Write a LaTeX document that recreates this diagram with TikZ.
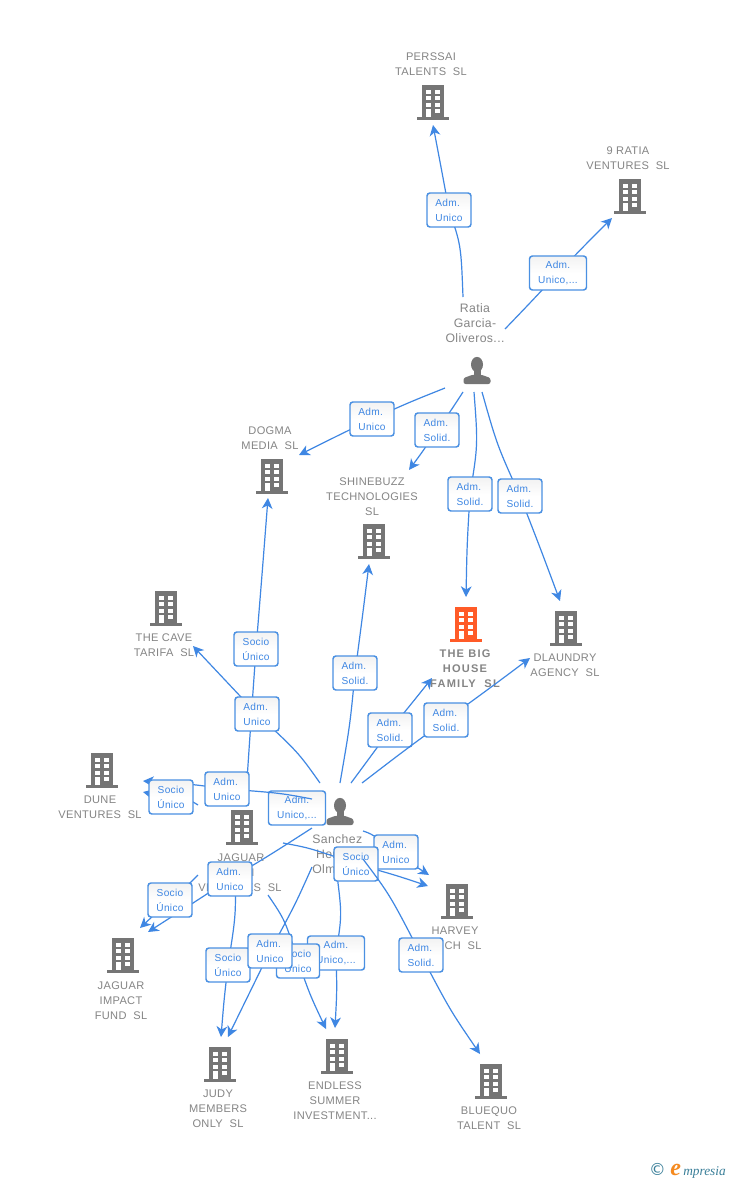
\documentclass[tikz,border=0pt]{standalone}
\usepackage{fontspec}
\usetikzlibrary{arrows.meta}
\setmainfont{Liberation Sans}
\newfontfamily\spaced[LetterSpace=3]{Liberation Sans}
\newfontfamily\spacedB[LetterSpace=11]{Liberation Sans}
\newfontfamily\serifit{Liberation Serif}
\newfontfamily\symb{DejaVu Sans}
\definecolor{lnk}{HTML}{3F87E3}
\definecolor{bdr}{HTML}{4A90E2}
\definecolor{lab}{HTML}{858585}
\definecolor{ico}{HTML}{757575}
\definecolor{hot}{HTML}{FF5B28}
\definecolor{teal}{HTML}{3A7F99}
\definecolor{orng}{HTML}{F58A1F}
\tikzset{
 edge/.style={draw=lnk,line width=0.9pt,-{Stealth[length=8pt,width=8pt,inset=2.4pt]}},
 roleL/.style={draw=bdr,line width=1.1pt,rounded corners=2.2pt,top color=black!5,bottom color=white,middle color=white,
   minimum height=25.5pt,inner sep=0pt,text=lnk,font=\spaced\fontsize{7.6}{11.25}\selectfont},
 firm/.style={text=lab,align=center,inner sep=0pt,font=\spaced\fontsize{8.3}{11.25}\selectfont},
 firmB/.style={firm,font=\spacedB\bfseries\fontsize{8.3}{11.25}\selectfont},
 who/.style={text=lab,align=center,inner sep=0pt,font=\spaced\fontsize{9.2}{11.25}\selectfont},
}
% #1 name, #2 centre, #3 colour
\newcommand\bldg[3]{%
 \begin{scope}[shift={(#2)}]
  \node[inner sep=0pt,minimum width=23.25pt,minimum height=26.25pt] (#1) at (0,0) {};
  \fill[#3] (-11,-17) rectangle (11,15);
  \fill[#3] (-16,14.7) rectangle (16,17.6);
  \foreach \cx in {-7,2.4}{\foreach \cy in {-12.4,-5.7,1}{\fill[white] (\cx,\cy) rectangle ++(4.7,4);}}
  \fill[white] (-7,6.7) rectangle ++(4.7,8);
  \fill[white] (2.4,7.3) rectangle ++(4.7,4);
 \end{scope}}
% #1 name, #2 centre
\newcommand\person[2]{%
 \begin{scope}[shift={(#2)}]
  \node[inner sep=0pt,minimum width=20pt,minimum height=21pt] (#1) at (0,0) {};
  \fill[ico] (0,-6.5) ellipse (6 and 7.6);
  \fill[ico] (-3.5,-2) rectangle (3.5,6);
  \fill[ico,rounded corners=1.6pt] (-13.5,13) -- (-13.5,7) -- (-3.5,3.5) -- (3.5,3.5) -- (13.5,7) -- (13.5,13) -- cycle;
 \end{scope}}
% #1 id, #2 start, #3 ctrl, #4 box centre, #5 ctrl, #6 tip, #7 width, #8 text, #9 alignment
\newcommand\link[9]{%
 \coordinate (s#1) at (#2);
 \coordinate (c#1) at (#4);
 \coordinate (t#1) at (#6);
 \draw[edge] (s#1) .. controls (#3) .. (c#1) .. controls (#5) .. (t#1);
 \node[roleL,minimum width=#7*0.75pt,align=#9] (b#1) at (c#1) {#8};}
\begin{document}
\begin{tikzpicture}[x=0.75pt,y=-0.75pt]
\useasboundingbox (0,0) rectangle (728,1180);
\fill[white] (0,0) rectangle (728,1180);
% companies
\bldg{perssai}{433,102}{ico}
\node[firm] (lperssai) at (431,64) {PERSSAI\\TALENTS\ \ SL};
\bldg{ratia9}{630,196}{ico}
\node[firm] (lratia9) at (628,158) {9 RATIA\\VENTURES\ \ SL};
\bldg{dogma}{272,476}{ico}
\node[firm] (ldogma) at (270,438) {DOGMA\\MEDIA\ \ SL};
\bldg{shine}{374,541}{ico}
\node[firm] (lshine) at (372,496.5) {SHINEBUZZ\\TECHNOLOGIES\\SL};
\bldg{big}{466,624}{hot}
\node[firmB] (lbig) at (465,668.5) {THE BIG\\HOUSE\\FAMILY\ \ SL};
\bldg{dlaundry}{566,628}{ico}
\node[firm] (ldlaundry) at (565,665) {DLAUNDRY\\AGENCY\ \ SL};
\bldg{cave}{166,608}{ico}
\node[firm] (lcave) at (164,645) {THE CAVE\\TARIFA\ \ SL};
\bldg{dune}{102,770}{ico}
\node[firm] (ldune) at (100,807) {DUNE\\VENTURES\ \ SL};
\bldg{jaguar}{242,827}{ico}
\node[firm] (ljaguar) at (241,857.5) {JAGUAR};
\node[firm] (ljaguarb) at (253,872.5) {I};
\node[firm] (ljaguarc) at (240,887.5) {VENTURES\ \ SL};
\bldg{impact}{123,955}{ico}
\node[firm] (limpact) at (121,1000.5) {JAGUAR\\IMPACT\\FUND\ \ SL};
\bldg{judy}{220,1064}{ico}
\node[firm] (ljudy) at (218,1108.5) {JUDY\\MEMBERS\\ONLY\ \ SL};
\bldg{endless}{337,1056}{ico}
\node[firm] (lendless) at (335,1100.5) {ENDLESS\\SUMMER\\INVESTMENT...};
\bldg{harvey}{457,901}{ico}
\node[firm] (lharvey) at (455,930.5) {HARVEY};
\node[firm] (lharveyb) at (463,945.5) {CH\ \ SL};
\bldg{bluequo}{491,1081}{ico}
\node[firm] (lbluequo) at (489,1118) {BLUEQUO\\TALENT\ \ SL};
% people
\person{ratia}{477,371}
\node[who] (lratia) at (475,323.5) {Ratia\\Garcia-\\Oliveros...};
\person{sanchez}{340,812}
\node[who,align=left,anchor=west] (lsanchez) at (312,854.5) {Sanchez\\\ Her\\Olm};
% connectors and roles
\link{1}{463,297}{461,245}{449,210}{441,167}{433,125}{44}{Adm.\\Unico}{left}
\link{2}{505,329}{530,303}{558,273}{585,245}{612,218}{57}{Adm.\\Unico,...}{center}
\link{3}{445,388}{410,402}{372,419}{335,437}{299,455}{44}{Adm.\\Unico}{left}
\link{4}{463,392}{450,412}{437,430}{423,451}{409,470}{44}{Adm.\\Solid.}{left}
\link{5}{474,392}{478,445}{470,494}{467,545}{466,597}{44}{Adm.\\Solid.}{left}
\link{6}{482,392}{497,445}{520,496}{541,550}{560,601}{44}{Adm.\\Solid.}{left}
\link{7}{246,795}{251,720}{256,649}{262,575}{268,498}{44}{Socio\\Único}{center}
\link{8}{320,783}{298,752}{257,714}{225,680}{193,646}{44}{Adm.\\Unico}{left}
\link{9}{340,783}{350,725}{355,673}{362,620}{369,564}{44}{Adm.\\Solid.}{left}
\link{10}{351,783}{368,760}{390,730}{412,703}{432,678}{44}{Adm.\\Solid.}{left}
\link{11}{362,783}{405,750}{446,720}{490,688}{530,658}{44}{Adm.\\Solid.}{left}
\node[roleL,minimum width=57*0.75pt,align=center] (b14) at (297,808) {Adm.\\Unico,...};
\link{13}{312,799}{280,793}{227,789}{190,784}{143,781}{44}{Adm.\\Unico}{left}
\link{12}{198,805}{185,797}{171,797}{157,795}{143,792}{44}{Socio\\Único}{center}
\link{15}{363,831}{372,834}{396,852}{415,866}{429,875}{44}{Adm.\\Unico}{left}
\link{16}{337,875}{342,915}{336,953}{337,990}{335,1028}{57}{Adm.\\Unico,...}{center}
\link{17}{283,843}{310,848}{356,864}{395,875}{428,886}{44}{Socio\\Único}{center}
\link{18}{363,859}{390,895}{421,955}{450,1010}{480,1054}{44}{Adm.\\Solid.}{left}
\link{21}{235,870}{236,915}{228,965}{224,1000}{221,1037}{44}{Socio\\Único}{center}
\link{20}{312,828}{270,855}{230,879}{190,905}{148,932}{44}{Adm.\\Unico}{left}
\link{19}{198,875}{185,888}{170,900}{155,914}{140,928}{44}{Socio\\Único}{center}
\link{22}{268,895}{285,920}{298,961}{310,995}{326,1029}{43}{Socio\\Único}{center}
\link{23}{312,867}{295,905}{270,951}{250,990}{228,1037}{44}{Adm.\\Unico}{left}
% logo
\node[inner sep=0pt,text=teal,font=\symb\fontsize{12.5}{12.5}\selectfont] (copy) at (657.5,1169) {©};
\node[inner sep=0pt,text=orng,anchor=base west,font=\serifit\itshape\bfseries\fontsize{18}{18}\selectfont] (loge) at (670,1175) {e};
\node[inner sep=0pt,text=teal,anchor=base west,font=\serifit\itshape\fontsize{10}{10}\selectfont] (logm) at (683,1175) {mpresia};
\end{tikzpicture}
\end{document}
